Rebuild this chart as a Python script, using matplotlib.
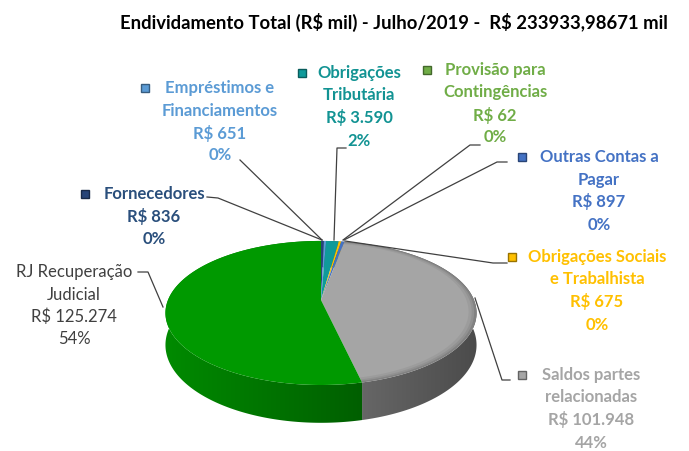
import numpy as np
import matplotlib.pyplot as plt
from matplotlib.patches import Polygon, Rectangle
from matplotlib.colors import to_rgb

plt.rcParams['font.family'] = ['Lato', 'DejaVu Sans']
plt.rcParams['text.parse_math'] = False

# slices clockwise from 12 o'clock
names = ['Fornecedores', 'Empréstimos e\nFinanciamentos', 'Obrigações\nTributária',
         'Provisão para\nContingências', 'Obrigações Sociais\ne Trabalhista',
         'Outras Contas a\nPagar', 'Saldos partes\nrelacionadas', 'RJ Recuperação\nJudicial']
values = [836, 651, 3590, 62, 675, 897, 101948, 125274]
colors = ['#264478', '#5b9bd5', '#0f9a9a', '#70ad47', '#ffc000', '#4472c4', '#a5a5a5', '#009900']
text_colors = ['#2a4f7c', '#5b9bd5', '#129393', '#70ad47', '#ffc000', '#4472c4', '#a5a5a5', '#404040']

title = 'Endividamento Total (R$ mil) - Julho/2019 -  R$ 233933,98671 mil'

fig = plt.figure(figsize=(6.89, 4.51), dpi=100)
ax = fig.add_axes([0, 0, 1, 1])
ax.axis('off')

# simple perspective projection of a tilted disc
cx, cy, a, b, k, depth = 321, 300, 153, 69.7, 0.18, 31


def proj(theta, r=1.0, h=0.0):
    u = r * np.sin(theta)
    v = -r * np.cos(theta)
    s = 1.0 / (1.0 - k * v)
    return cx + a * u * s, cy + (b * v + h * depth) * s


total = sum(values)
bounds = np.concatenate([[0], np.cumsum(values)]) / total * 2 * np.pi

# side wall: horizontal shading clipped to each slice's band
gx = np.linspace(150, 490, 340)
shade = 0.68 - 0.22 * (gx - cx) / a
for i, c in enumerate(colors):
    t = np.linspace(bounds[i], bounds[i + 1], max(3, int((bounds[i + 1] - bounds[i]) * 80)))
    band = [proj(tt) for tt in t] + [proj(tt, h=1) for tt in t[::-1]]
    img = np.clip(np.array(to_rgb(c))[None, None, :] * shade[None, :, None], 0, 1)
    img = np.repeat(img, 2, axis=0)
    im = ax.imshow(img, extent=(150, 490, 440, 230), aspect='auto', interpolation='bilinear', zorder=0)
    im.set_clip_path(Polygon(band, closed=True, transform=ax.transData))

# top face
for i, c in enumerate(colors):
    t = np.linspace(bounds[i], bounds[i + 1], max(2, int((bounds[i + 1] - bounds[i]) * 80)))
    pts = [proj(0, r=0)] + [proj(tt) for tt in t]
    ax.add_patch(Polygon(pts, closed=True, fc=c, ec='none', zorder=1))

# darker bevel towards the rim of the grey slice
t = np.linspace(bounds[6], bounds[7], 200)
for r, al in [(0.985, 0.10), (0.97, 0.07), (0.95, 0.05)]:
    ring = [proj(tt) for tt in t] + [proj(tt, r=r) for tt in t[::-1]]
    ax.add_patch(Polygon(ring, closed=True, fc='black', ec='none', alpha=al, zorder=1))

ax.text(394, 22, title, ha='center', va='center', fontsize=13.3, fontweight='bold', color='black')

# label blocks: centre x, first line y, marker x, leader line points
label_x = [154, 220, 359, 495, 597, 599, 591, 74]
label_y = [194, 88, 73, 70, 257, 157, 375, 272]
marker_x = [85, 145, 302, 427, 512, 522, 522, None]
leaders = [
    [(207, 197), (218, 198), (322, 240)],
    [(240, 160), (322, 240)],
    [(346, 148), (337, 148), (334, 240)],
    [(480, 145), (470, 145), (343, 240)],
    [(507, 263), (493, 263), (345, 241)],
    [(507, 162), (497, 162), (344, 240)],
    [(475, 298), (502, 380), (510, 380)],
    [(138, 272), (148, 272), (163, 307)],
]

for i, name in enumerate(names):
    money = 'R$ ' + f'{values[i]:,}'.replace(',', '.')
    pct = f'{round(100 * values[i] / total)}%'
    lines = name.split('\n') + [money, pct]
    weight = 'normal' if i == 7 else 'bold'
    for j, line in enumerate(lines):
        ax.text(label_x[i], label_y[i] + j * 22.5, line, ha='center', va='center',
                fontsize=12, fontweight=weight, color=text_colors[i])
    if marker_x[i] is not None:
        ax.add_patch(Rectangle((marker_x[i] - 4, label_y[i] - 4), 8, 8, fc=colors[i],
                               ec=np.array(to_rgb(colors[i])) * 0.6, lw=1))
    xs, ys = zip(*leaders[i])
    ax.plot(xs, ys, color='#404040', lw=0.9)

ax.set_xlim(0, 689)
ax.set_ylim(451, 0)
fig.savefig('out.png', dpi=100)
